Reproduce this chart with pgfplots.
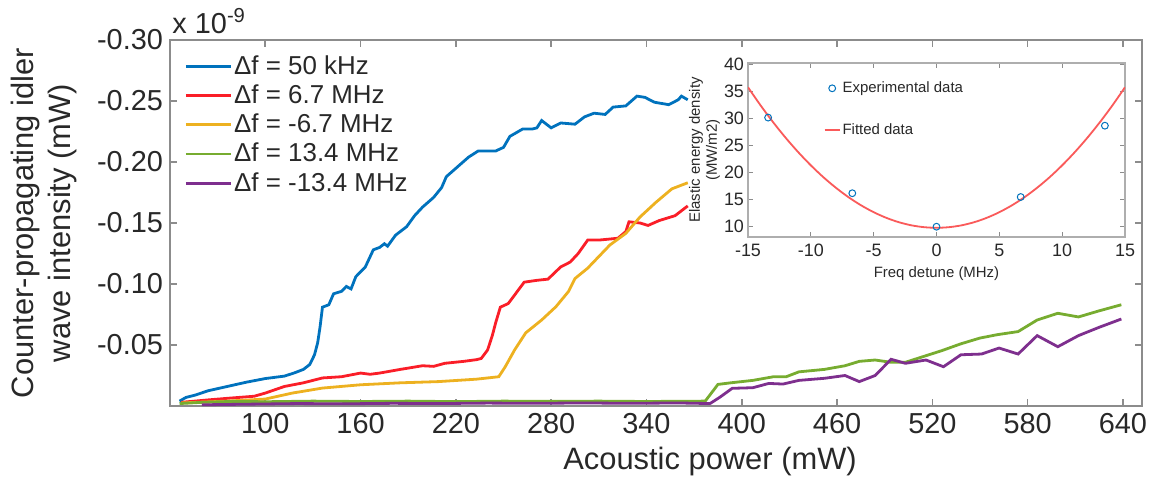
\documentclass[border=0pt]{standalone}
\usepackage{pgfplots}
\pgfplotsset{compat=1.18}
\usepackage{fontspec}
\setmainfont{Liberation Sans}
\definecolor{mblue}{RGB}{0,114,189}
\definecolor{mred}{RGB}{250,30,40}
\definecolor{myellow}{RGB}{237,177,32}
\definecolor{mgreen}{RGB}{119,172,48}
\definecolor{mpurple}{RGB}{126,47,142}
\definecolor{fitred}{RGB}{250,90,90}
\definecolor{axgray}{RGB}{140,140,140}
\definecolor{txt}{RGB}{40,40,40}
\pgfplotsset{
    markleg/.style={legend image code/.code={\draw[##1] plot coordinates {(3.75bp,0bp)};}},
    lineleg/.style={legend image code/.code={\draw[##1] (0bp,0bp) -- (7.5bp,0bp);}},
}

\begin{document}
\begin{tikzpicture}
\path[use as bounding box] (-85bp,-35.5bp) rectangle (492bp,203bp);

% main plot
\begin{axis}[
    name=main, at={(0,0)}, anchor=south west,
    scale only axis, width=486bp, height=183bp,
    xmin=40, xmax=652, ymin=-0.30, ymax=0, y dir=reverse,
    xtick={100,160,...,640},
    ytick={-0.30,-0.25,-0.20,-0.15,-0.10,-0.05},
    yticklabels={-0.30,-0.25,-0.20,-0.15,-0.10,-0.05},
    scaled ticks=false,
    /pgf/number format/assume math mode=true,
    tick align=inside, major tick length=3.5bp,
    axis line style={axgray, line width=0.8bp},
    every tick/.style={axgray, line width=0.8bp},
    tick label style={txt, font=\fontsize{14.5}{17}\selectfont},
    xlabel={Acoustic power (mW)},
    xlabel style={txt, font=\fontsize{15.5}{19}\selectfont,
        at={(axis description cs:0.5556,-0.153)}, anchor=center},
    ylabel={Counter-propagating idler\\wave intensity (mW)},
    ylabel style={txt, font=\fontsize{15.5}{19}\selectfont, align=center,
        at={(axis description cs:-0.1296,0.5)}, anchor=center},
    legend style={draw=none, fill=none, inner sep=0pt,
        at={(axis description cs:0,1)}, anchor=north west,
        xshift=7bp, yshift=-6.5bp,
        font=\fontsize{13}{15}\selectfont, text=txt,
        row sep=1.75bp,
        nodes={inner sep=1bp}},
    legend cell align=left,
    legend image code/.code={\draw[#1] (0bp,0bp) -- (22.5bp,0bp);},
    every axis plot/.append style={line width=1.4bp},
]
\addplot[mblue] coordinates {
(46,-0.004) (50,-0.007) (56,-0.009) (64,-0.0125) (76,-0.016) (88,-0.0195)
(100,-0.0225) (112,-0.0245) (118,-0.027) (124,-0.030) (128,-0.034)
(131,-0.042) (133,-0.052) (134.5,-0.065) (136,-0.081) (140,-0.083)
(143,-0.092) (148,-0.094) (151,-0.098) (154,-0.096) (157,-0.106)
(163,-0.114) (168,-0.128) (172,-0.130) (175,-0.133) (177,-0.131)
(182,-0.140) (189,-0.147) (194,-0.156) (199,-0.163) (206,-0.171)
(211,-0.179) (214,-0.188) (221,-0.196) (228,-0.204) (234,-0.209)
(238,-0.209) (245,-0.209) (250,-0.212) (254,-0.221) (262,-0.227)
(268,-0.227) (271,-0.228) (274,-0.234) (280,-0.228) (286,-0.232)
(295,-0.231) (301,-0.237) (307,-0.240) (314,-0.239) (319,-0.245)
(327,-0.246) (334,-0.254) (339,-0.253) (345,-0.249) (354,-0.247)
(360,-0.251) (362,-0.254) (366,-0.251)
};
\addplot[mred] coordinates {
(47,-0.003) (64,-0.005) (78,-0.0065) (93,-0.008) (100,-0.0106)
(112,-0.016) (124,-0.019) (136,-0.023) (148,-0.024) (160,-0.027)
(166,-0.026) (172,-0.027) (185,-0.030) (199,-0.033) (206,-0.0325)
(213,-0.035) (225,-0.0366) (233,-0.038) (236,-0.039) (240,-0.046)
(243,-0.058) (245,-0.068) (248,-0.081) (253,-0.084) (257,-0.091)
(263,-0.1015) (271,-0.103) (278,-0.104) (286,-0.114) (292,-0.118)
(297,-0.125) (303,-0.136) (310,-0.136) (322,-0.1375) (327,-0.143)
(329,-0.151) (336,-0.150) (341,-0.148) (348,-0.152) (358,-0.156)
(366,-0.164)
};
\addplot[myellow] coordinates {
(47,-0.0025) (76,-0.004) (100,-0.0057) (117,-0.0106) (136,-0.0147)
(160,-0.0174) (185,-0.019) (209,-0.020) (233,-0.022) (247,-0.024)
(251,-0.032) (257,-0.046) (264,-0.060) (274,-0.0705) (283,-0.0814)
(291,-0.094) (295,-0.1045) (303,-0.113) (310,-0.1225) (317,-0.132)
(327,-0.1415) (336,-0.155) (346,-0.167) (356,-0.178) (366,-0.183)
};
\addplot[mgreen] coordinates {
(46,-0.002) (60,-0.003) (80,-0.0038) (100,-0.0035) (130,-0.004)
(160,-0.0037) (190,-0.004) (220,-0.0036) (250,-0.004) (280,-0.0038)
(310,-0.004) (340,-0.0037) (377,-0.004) (385,-0.0177) (393,-0.019)
(407,-0.021) (420,-0.024) (428,-0.024) (436,-0.028) (452,-0.030)
(465,-0.033) (474,-0.0366) (484,-0.0377) (494,-0.0358) (503,-0.0358)
(513,-0.040) (526,-0.0454) (538,-0.051) (550,-0.0557) (561,-0.0585)
(574,-0.061) (586,-0.0705) (599,-0.076) (612,-0.073) (625,-0.078)
(639,-0.083)
};
\addplot[mpurple] coordinates {
(60,-0.001) (90,-0.0015) (120,-0.002) (150,-0.0018) (180,-0.0022)
(210,-0.002) (240,-0.0024) (270,-0.0022) (300,-0.0025) (330,-0.0022)
(360,-0.0025) (380,-0.002) (386,-0.007) (394,-0.0145) (407,-0.015)
(417,-0.0185) (426,-0.018) (436,-0.021) (452,-0.0227) (465,-0.025)
(474,-0.020) (484,-0.025) (494,-0.0383) (503,-0.035) (516,-0.0377)
(527,-0.0322) (538,-0.042) (551,-0.0426) (562,-0.0475) (574,-0.0426)
(586,-0.0577) (599,-0.0486) (612,-0.0577) (625,-0.0645) (639,-0.0713)
};
\legend{Δf = 50 kHz, Δf = 6.7 MHz, Δf = -6.7 MHz, Δf = 13.4 MHz, Δf = -13.4 MHz}
\end{axis}
\node[anchor=base west, txt, font=\fontsize{14.5}{17}\selectfont, inner sep=0pt]
    at ([xshift=1bp, yshift=3.5bp]main.north west) {x 10\textsuperscript{-9}};

% inset
\begin{axis}[
    name=inset, at={(289bp,84.5bp)}, anchor=south west,
    scale only axis, width=188.5bp, height=87bp,
    xmin=-15, xmax=15, ymin=8.1, ymax=40.3,
    xtick={-15,-10,...,15}, ytick={10,15,...,40},
    /pgf/number format/assume math mode=true,
    axis background/.style={fill=white},
    tick align=inside, major tick length=2.5bp,
    axis line style={axgray!70, line width=0.6bp},
    every tick/.style={axgray, line width=0.5bp},
    tick label style={txt, font=\fontsize{9}{10}\selectfont},
    yticklabel style={xshift=1.5bp},
    xlabel={Freq detune (MHz)},
    xlabel style={txt, font=\fontsize{7.5}{9}\selectfont,
        at={(axis description cs:0.5,-0.2126)}, anchor=center},
    ylabel={Elastic energy density\\(MW/m2)},
    ylabel style={txt, font=\fontsize{7.5}{8.5}\selectfont, align=center,
        at={(axis description cs:-0.1154,0.5)}, anchor=center},
    legend style={draw=none, fill=none, inner sep=0pt,
        at={(axis description cs:0.2,1)}, anchor=north west,
        yshift=-8bp,
        font=\fontsize{7.5}{9}\selectfont, text=txt,
        row sep=12bp, nodes={inner sep=1bp}},
    legend cell align=left,
]
\addplot[only marks, mark=o, mark size=1.7bp, mblue, line width=0.5bp, markleg]
coordinates {(-13.4,30.2) (-6.7,16.2) (0,10) (6.7,15.5) (13.4,28.7)};
\addplot[fitred, line width=0.9bp, smooth, lineleg]
coordinates {
(-15,35.81) (-14,32.46) (-13,29.34) (-12,26.45) (-11,23.79) (-10,21.36)
(-9,19.16) (-8,17.20) (-7,15.46) (-6,13.96) (-5,12.69) (-4,11.65)
(-3,10.84) (-2,10.26) (-1,9.92) (0,9.80) (1,9.92) (2,10.26) (3,10.84)
(4,11.65) (5,12.69) (6,13.96) (7,15.46) (8,17.20) (9,19.16) (10,21.36)
(11,23.79) (12,26.45) (13,29.34) (14,32.46) (15,35.81)
};
\legend{Experimental data, Fitted data}
\end{axis}
\end{tikzpicture}
\end{document}
